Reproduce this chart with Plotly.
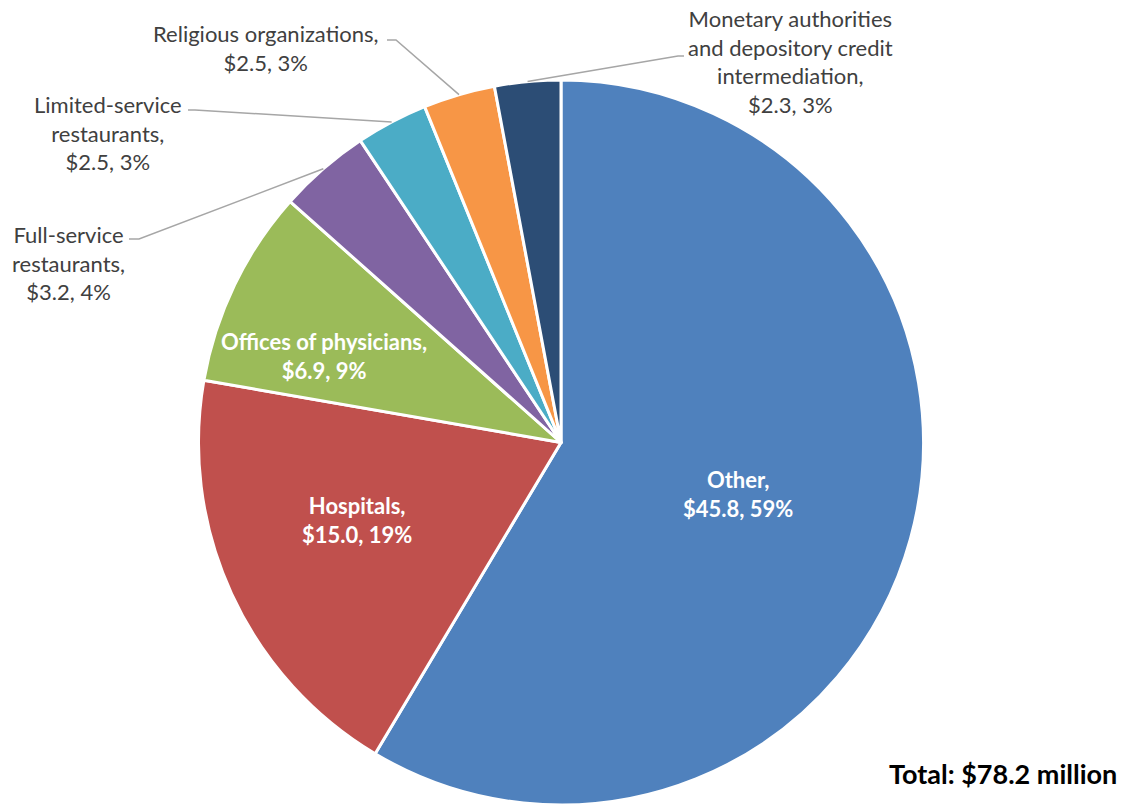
import math
import plotly.graph_objects as go

# Spending by industry, $ millions (clockwise from 12 o'clock)
industries = [
    "Other",
    "Hospitals",
    "Offices of physicians",
    "Full-service restaurants",
    "Limited-service restaurants",
    "Religious organizations",
    "Monetary authorities and depository credit intermediation",
]
amounts = [45.8, 15.0, 6.9, 3.2, 2.5, 2.5, 2.3]
total_amount = 78.2

# Display text for each label (line breaks as drawn; ZWNJ keeps "ti" unligated)
label_names = [
    "Other,",
    "Hospitals,",
    "Offices of physicians,",
    "Full-service<br>restaurants,",
    "Limited-service<br>restaurants,",
    "Religious organizations,",
    "Monetary authori\u200cties<br>and depository credit<br>intermedia\u200ction,",
]

colors = ["#4F81BD", "#C0504D", "#9BBB59", "#8064A2", "#4BACC6", "#F79646", "#2C4D75"]

W, H = 1127, 805
FONT = "Lato, 'Open Sans', sans-serif"

# Pie placement in pixels
CX, CY, R = 561.0, 442.5, 362.5


def px(x):
    return x / W


def py(y):
    return 1 - y / H


fig = go.Figure(
    go.Pie(
        labels=industries,
        values=amounts,
        sort=False,
        direction="clockwise",
        rotation=0,
        textinfo="none",
        hoverinfo="label+value+percent",
        marker=dict(colors=colors, line=dict(color="white", width=3)),
        domain=dict(x=[px(CX - R), px(CX + R)], y=[py(CY + R), py(CY - R)]),
        showlegend=False,
    )
)

# Mid-angle of each slice (degrees clockwise from 12 o'clock)
total = sum(amounts)
mid_angles = []
acc = 0.0
for v in amounts:
    mid_angles.append((acc + v / 2) / total * 360)
    acc += v


def edge_point(angle_deg, frac=1.0):
    a = math.radians(angle_deg)
    return CX + R * frac * math.sin(a), CY - R * frac * math.cos(a)


def label_text(i):
    pct = round(amounts[i] / total_amount * 100)
    return f"{label_names[i]}<br>${amounts[i]:.1f}, {pct}%"


# Label styling: inside (bold white) vs outside (gray with leader line)
inside = {0: (738, 494), 1: (357, 520), 2: (324, 356)}
outside = {
    3: dict(center=(68, 263), path=[(139, 239), (129, 239)]),
    4: dict(center=(108, 133), path=[(195, 110), (188, 110)]),
    5: dict(center=(266, 48), path=[(396, 40), (387, 40)]),
    6: dict(center=(790, 62), path=[(678, 56), (684, 56)]),
}

annotations = []
shapes = []

for i, (x, y) in inside.items():
    annotations.append(
        dict(
            x=px(x), y=py(y), xref="paper", yref="paper",
            text=f"<b>{label_text(i)}</b>",
            showarrow=False, align="center",
            xanchor="center", yanchor="middle",
            font=dict(family=FONT, size=22, color="white"),
        )
    )

for i, spec in outside.items():
    x, y = spec["center"]
    annotations.append(
        dict(
            x=px(x), y=py(y), xref="paper", yref="paper",
            text=label_text(i),
            showarrow=False, align="center",
            xanchor="center", yanchor="middle",
            font=dict(family=FONT, size=22, color="#404040"),
        )
    )
    pts = [edge_point(mid_angles[i])] + spec["path"]
    path = "M " + " L ".join(f"{px(a):.5f},{py(b):.5f}" for a, b in pts)
    shapes.append(
        dict(type="path", xref="paper", yref="paper", path=path,
             line=dict(color="#A6A6A6", width=1.5))
    )

annotations.append(
    dict(
        x=px(1119), y=py(773), xref="paper", yref="paper",
        text=f"<b>Total: ${total_amount:.1f} million</b>",
        showarrow=False, xanchor="right", yanchor="middle",
        font=dict(family=FONT, size=27, color="black"),
    )
)

fig.update_layout(
    width=W, height=H,
    margin=dict(l=0, r=0, t=0, b=0),
    paper_bgcolor="white",
    plot_bgcolor="white",
    annotations=annotations,
    shapes=shapes,
)

fig.write_html("out.html")
